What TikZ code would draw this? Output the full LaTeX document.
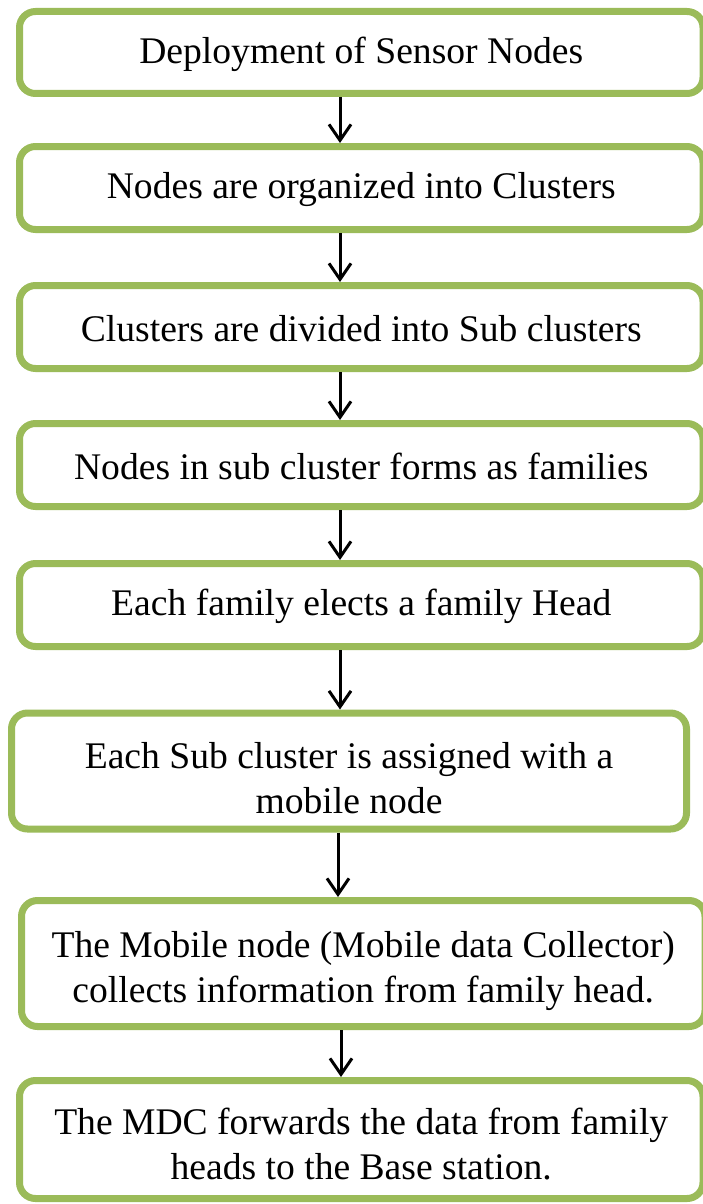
\documentclass[tikz,border=0pt]{standalone}
\usepackage{fontspec}
\setmainfont{Liberation Serif}
\usetikzlibrary{arrows.meta}
\definecolor{boxgreen}{HTML}{9BBB59}
\newcommand{\topstrut}[1]{\rule{0pt}{#1}}
\begin{document}
\begin{tikzpicture}[x=1pt,y=-1pt,
  stepbox/.style={draw=boxgreen, line width=7pt, rounded corners=16pt, fill=white,
    align=center, inner sep=0pt, font=\fontsize{37.6}{45}\selectfont},
  flow/.style={line width=3pt, -{Straight Barb[length=16pt,width=22pt,line width=3pt]}}]
\useasboundingbox (0,0) rectangle (702,1204);
\fill[white] (0,0) rectangle (702,1204);
\node[stepbox, minimum width=683.5pt, minimum height=82pt] (b1) at (361.25,52.5) {\topstrut{30pt}Deployment of Sensor Nodes};
\node[stepbox, minimum width=683.5pt, minimum height=83pt] (b2) at (361.25,188) {\topstrut{30pt}Nodes are organized into Clusters};
\node[stepbox, minimum width=683.5pt, minimum height=83pt] (b3) at (361.25,327) {\topstrut{30pt}Clusters are divided into Sub clusters};
\node[stepbox, minimum width=683.5pt, minimum height=83pt] (b4) at (361.25,465) {\topstrut{30pt}Nodes in sub cluster forms as families};
\node[stepbox, minimum width=683.5pt, minimum height=83pt] (b5) at (361.25,605) {\topstrut{30pt}Each family elects a family Head};
\node[stepbox, minimum width=675pt, minimum height=116pt] (b6) at (349,771) {\topstrut{41pt}Each Sub cluster is assigned with a\\mobile node};
\node[stepbox, minimum width=683.5pt, minimum height=126pt] (b7) at (363.25,963.5) {\topstrut{41pt}The Mobile node (Mobile data Collector)\\collects information from family head.};
\node[stepbox, minimum width=683.5pt, minimum height=118pt] (b8) at (361.25,1139.5) {\topstrut{35pt}The MDC forwards the data from family\\heads to the Base station.};
\coordinate (ax) at (340,0);
\coordinate (ay) at (338,0);
\coordinate (az) at (341,0);
\draw[flow] (b1.south -| ax) -- (b2.north -| ax);
\draw[flow] (b2.south -| ax) -- (b3.north -| ax);
\draw[flow] (b3.south -| ax) -- (b4.north -| ax);
\draw[flow] (b4.south -| ax) -- (b5.north -| ax);
\draw[flow] (b5.south -| ax) -- (b6.north -| ax);
\draw[flow] (b6.south -| ay) -- (b7.north -| ay);
\draw[flow] (b7.south -| az) -- (b8.north -| az);
\end{tikzpicture}
\end{document}
